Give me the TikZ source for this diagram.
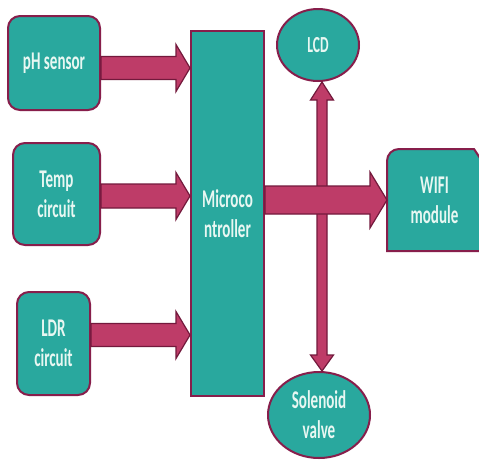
\documentclass[tikz,border=0pt]{standalone}
\usepackage{fontspec}
\setmainfont{Carlito}[FakeStretch=0.59]
\usetikzlibrary{shapes.geometric,calc}
\definecolor{tealfill}{RGB}{41,168,158}
\definecolor{boxline}{RGB}{135,30,75}
\definecolor{arrfill}{RGB}{190,60,104}
\definecolor{arrline}{RGB}{115,25,60}
\definecolor{txtcol}{RGB}{232,247,242}
\pgfdeclarelayer{bg}
\pgfsetlayers{bg,main}
\newcommand{\hblk}[5]{%
  \draw[blk] let \p1=(#1), \p2=(#2) in
    (\x1,\y1+#3) -- (\x2-#5,\y1+#3) -- (\x2-#5,\y1+#4) -- (\x2,\y1)
    -- (\x2-#5,\y1-#4) -- (\x2-#5,\y1-#3) -- (\x1,\y1-#3) -- cycle;}
\begin{document}
\begin{tikzpicture}[x=1pt,y=-1pt,
  box/.style={draw=boxline, line width=2pt, fill=tealfill, text=txtcol, align=center,
    inner sep=0pt, font=\fontsize{25.5}{30}\selectfont\bfseries},
  rbox/.style={box, rectangle, rounded corners=12pt},
  ebox/.style={box, ellipse},
  blk/.style={draw=arrline, fill=arrfill, line width=1.2pt, line join=miter}]
\useasboundingbox (0,0) rectangle (479,459);
\begin{pgfonlayer}{bg}
\fill[white] (0,0) rectangle (479,459);
\end{pgfonlayer}

\node[rbox, minimum width=92pt, minimum height=94pt] (ph) at (54,63) {pH sensor};
\node[rbox, minimum width=87pt, minimum height=102pt] (temp) at (56.5,194) {Temp\\circuit};
\node[rbox, minimum width=73pt, minimum height=103pt] (ldr) at (53.5,343.5) {LDR\\circuit};
\node[box, rectangle, minimum width=73pt, minimum height=365pt] (mcu) at (227.5,213.5) {Microco\\ntroller};
\node[ebox, minimum width=82pt, minimum height=72pt, font=\fontsize{23}{28}\selectfont\bfseries] (lcd) at (318,45) {LCD};
\node[ebox, minimum width=102pt, minimum height=86pt] (sol) at (319,415) {Solenoid\\valve};
\node[box, draw=none, fill=none, minimum width=93pt, minimum height=100pt] (wifi) at (434.5,200) {WIFI\\module};

\begin{pgfonlayer}{bg}
\draw[draw=boxline, line width=2pt, fill=tealfill]
  (wifi.south west) -- ([yshift=-12pt]wifi.north west)
  arc[start angle=180, end angle=90, radius=12pt]
  -- ([xshift=-8pt]wifi.north east) -- ([yshift=-12pt]wifi.north east)
  -- (wifi.south east) -- cycle;
\end{pgfonlayer}

% input arrows
\hblk{[yshift=-5pt]ph.east}{mcu.west}{11.5pt}{23.5pt}{14pt}
\hblk{[yshift=-2pt]temp.east}{mcu.west}{12pt}{23.5pt}{14pt}
\hblk{[yshift=8.5pt]ldr.east}{mcu.west}{11.5pt}{23.5pt}{14pt}

% vertical double arrow LCD <-> Solenoid
\draw[blk] let \p1=(lcd.south), \p2=(sol.north) in
  (\x1+4pt,\y1) -- (\x1+15.5pt,\y1-18pt) -- (\x1+9pt,\y1-18pt)
  -- (\x1+9pt,\y2+16pt) -- (\x1+15.5pt,\y2+16pt) -- (\x1+4pt,\y2)
  -- (\x1-7.5pt,\y2+16pt) -- (\x1-1pt,\y2+16pt)
  -- (\x1-1pt,\y1-18pt) -- (\x1-7.5pt,\y1-18pt) -- cycle;

% output arrow to WIFI
\hblk{[yshift=13.5pt]mcu.east}{wifi.west}{14pt}{28pt}{17pt}
\end{tikzpicture}
\end{document}
